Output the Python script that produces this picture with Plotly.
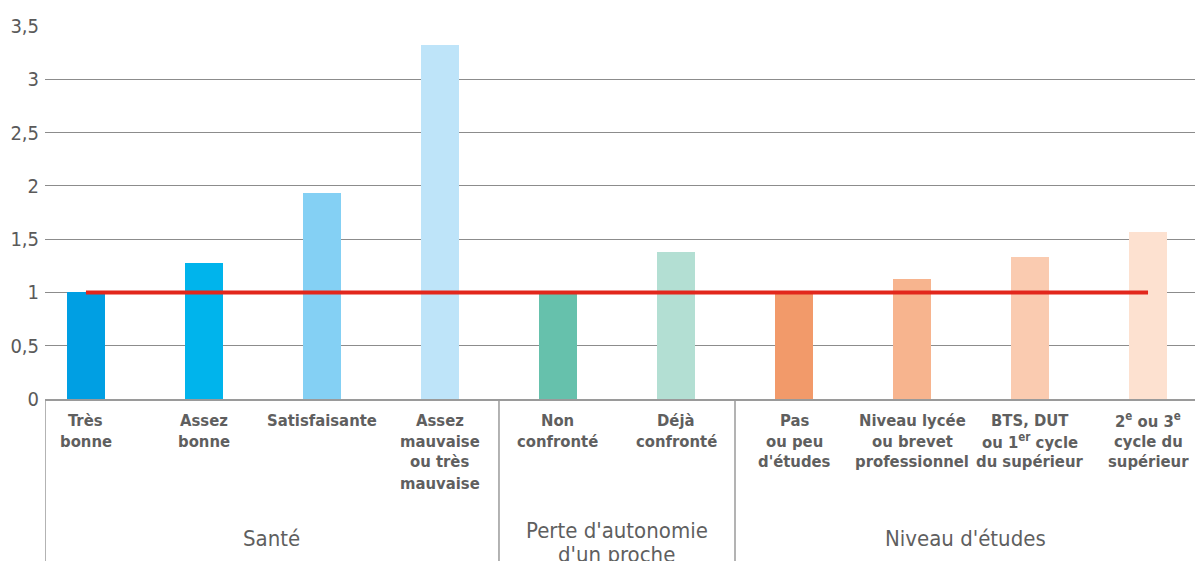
import plotly.graph_objects as go

# Category labels (one list of lines per bar)
categories = [
    ["Très", "bonne"],
    ["Assez", "bonne"],
    ["Satisfaisante"],
    ["Assez", "mauvaise", "ou très", "mauvaise"],
    ["Non", "confronté"],
    ["Déjà", "confronté"],
    ["Pas", "ou peu", "d'études"],
    ["Niveau lycée", "ou brevet", "professionnel"],
    ["BTS, DUT", "ou 1<sup>er</sup> cycle", "du supérieur"],
    ["2<sup>e</sup> ou 3<sup>e</sup>", "cycle du", "supérieur"],
]
values = [1.0, 1.28, 1.93, 3.32, 1.0, 1.38, 1.0, 1.13, 1.33, 1.57]
colors = ["#009fe3", "#00b4ec", "#84d0f4", "#bee4f9",
          "#66c1ac", "#b3dfd3",
          "#f29a6a", "#f7b48e", "#facbb0", "#fde1d0"]

# Groups: label lines, first and last category index
groups = [
    (["Santé"], 0, 3),
    (["Perte d'autonomie", "d'un proche"], 4, 5),
    (["Niveau d'études"], 6, 9),
]
reference_value = 1.0
y_ticks = [0, 0.5, 1, 1.5, 2, 2.5, 3, 3.5]

W, H = 1195, 561
M_T, M_B, M_L, M_R = 26, 162, 45, 0
plot_h = H - M_T - M_B
x_idx = list(range(len(values)))
x_range = [-0.347, 9.398]
FONT = "Liberation Sans Narrow, DejaVu Sans Condensed, Arial Narrow, sans-serif"


def py(px_from_top):
    """Paper y coordinate for a pixel row of the page."""
    return (H - M_B - px_from_top) / plot_h


fig = go.Figure()
fig.add_trace(go.Bar(
    x=x_idx, y=values, marker=dict(color=colors, line=dict(width=0)),
    width=0.322, showlegend=False, hoverinfo="skip",
))
fig.add_trace(go.Scatter(
    x=[x_idx[0], x_idx[-1]], y=[reference_value, reference_value],
    mode="lines", line=dict(color="#e2271c", width=4),
    showlegend=False, hoverinfo="skip",
))

label_font = dict(family=FONT, size=16.5, color="#5f5f5f")
group_font = dict(family=FONT, size=22, color="#5f5f5f")

annotations = []
for i, lines in enumerate(categories):
    for k, line in enumerate(lines):
        annotations.append(dict(
            x=i, y=py(420 + 21 * k), xref="x", yref="paper",
            text="<b>" + line + "</b>", showarrow=False,
            xanchor="center", yanchor="middle", font=label_font,
        ))

shapes = []
for lines, a, b in groups:
    cx = (max(a - 0.5, x_range[0]) + min(b + 0.5, x_range[1])) / 2
    starts = [538] if len(lines) == 1 else [530, 554]
    for line, ypx in zip(lines, starts):
        annotations.append(dict(
            x=cx, y=py(ypx), xref="x", yref="paper", text=line,
            showarrow=False, xanchor="center", yanchor="middle", font=group_font,
        ))

# Vertical separators below the axis
for xs in [x_range[0], 3.5, 5.5]:
    shapes.append(dict(type="line", xref="x", yref="paper",
                       x0=xs, x1=xs, y0=0, y1=py(H + 5),
                       line=dict(color="#9a9a9a", width=1.5)))

fig.update_layout(
    width=W, height=H,
    margin=dict(t=M_T, b=M_B, l=M_L, r=M_R, pad=0),
    paper_bgcolor="white", plot_bgcolor="white",
    separators=", ",
    bargap=0,
    annotations=annotations, shapes=shapes,
    xaxis=dict(range=x_range, showticklabels=False, showgrid=False,
               zeroline=False, showline=True, linecolor="#9a9a9a", linewidth=1.5,
               fixedrange=True),
    yaxis=dict(range=[0, 3.5], tickvals=y_ticks, showgrid=True,
               gridcolor="#8c8c8c", gridwidth=1, zeroline=False,
               showline=False, ticks="", ticklen=0, ticklabelstandoff=5,
               tickfont=dict(family=FONT, size=20, color="#5a5a5a"),
               fixedrange=True),
)

fig.write_html("out.html")
